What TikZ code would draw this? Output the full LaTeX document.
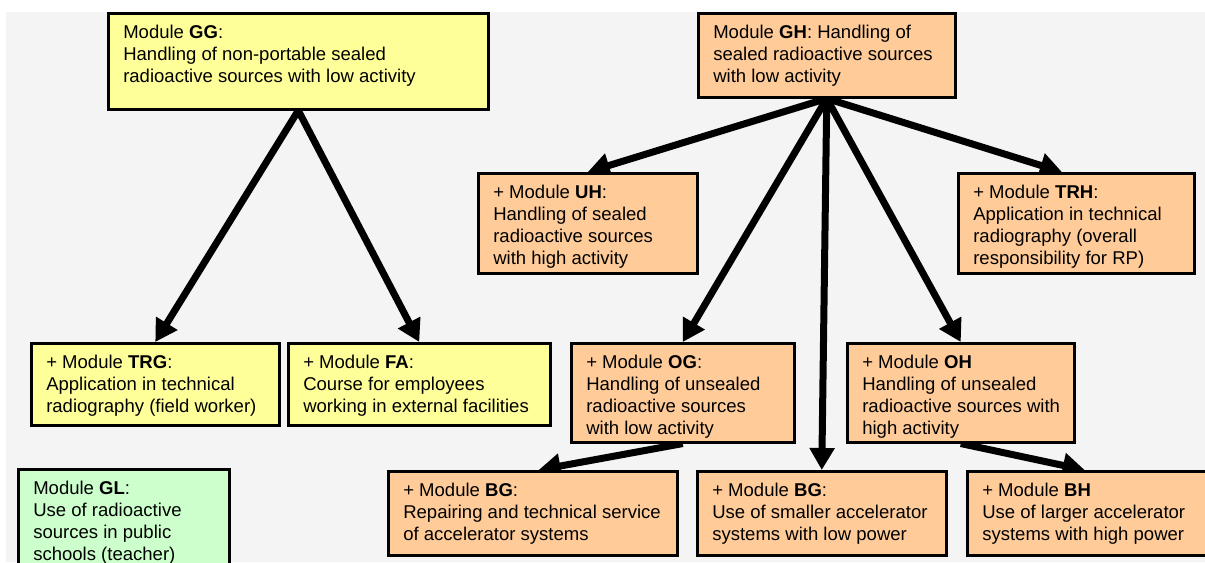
\documentclass[tikz,border=0pt]{standalone}
\usepackage{fontspec}
\setmainfont{Liberation Sans}
\usetikzlibrary{arrows.meta,calc}
\pgfdeclarelayer{bgl}
\pgfdeclarelayer{arl}
\pgfsetlayers{bgl,arl,main}
\newlength\mypx
\setlength\mypx{0.75pt}
\newcommand{\mbx}[3]{\begin{minipage}[t][#2\mypx][t]{#1\mypx}\leftskip=15\mypx\rule{0pt}{25\mypx}#3\end{minipage}}
\definecolor{ylw}{HTML}{FFFF99}
\definecolor{org}{HTML}{FFCC99}
\definecolor{grn}{HTML}{CCFFCC}
\definecolor{bgg}{HTML}{F4F4F4}
\begin{document}
\begin{tikzpicture}[x=0.75pt,y=-0.75pt,
  modbox/.style={draw=black, line width=1.9pt, inner sep=0pt, anchor=north west,
    font=\fontsize{13.9pt}{16.5pt}\selectfont},
  arr/.style={line width=5.25pt, -{Triangle[length=16.5pt,width=18pt]}}]
\useasboundingbox (0,0) rectangle (1205,562);
\begin{pgfonlayer}{bgl}
\fill[bgg] (6,12) rectangle (1205,562);
\end{pgfonlayer}

\node[modbox, fill=ylw] (gg) at (107,12) {\mbx{380}{96}{Module \textbf{GG}:\\Handling of non-portable sealed\\radioactive sources with low activity}};
\node[modbox, fill=org] (gh) at (697,12) {\mbx{257}{84}{Module \textbf{GH}: Handling of\\sealed radioactive sources\\with low activity}};
\node[modbox, fill=org] (uh) at (477,172) {\mbx{219}{100}{+ Module \textbf{UH}:\\Handling of sealed\\radioactive sources\\with high activity}};
\node[modbox, fill=org] (trh) at (957,172) {\mbx{236}{100}{+ Module \textbf{TRH}:\\Application in technical\\radiography (overall\\responsibility for RP)}};
\node[modbox, fill=ylw] (trg) at (30,342) {\mbx{248}{82}{+ Module \textbf{TRG}:\\Application in technical\\radiography (field worker)}};
\node[modbox, fill=ylw] (fa) at (287,342) {\mbx{262}{82}{+ Module \textbf{FA}:\\Course for employees\\working in external facilities}};
\node[modbox, fill=org] (og) at (570,342) {\mbx{223}{99}{+ Module \textbf{OG}:\\Handling of unsealed\\radioactive sources\\with low activity}};
\node[modbox, fill=org] (oh) at (846,342) {\mbx{227}{99}{+ Module \textbf{OH}\\Handling of unsealed\\radioactive sources with\\high activity}};
\node[modbox, fill=grn] (gl) at (17,468) {\mbx{211}{110}{Module \textbf{GL}:\\Use of radioactive\\sources in public\\schools (teacher)}};
\node[modbox, fill=org] (bga) at (387,470) {\mbx{289}{84}{+ Module \textbf{BG}:\\Repairing and technical service\\of accelerator systems}};
\node[modbox, fill=org] (bgb) at (696,470) {\mbx{249}{84}{+ Module \textbf{BG}:\\Use of smaller accelerator\\systems with low power}};
\node[modbox, fill=org] (bh) at (966,470) {\mbx{250}{84}{+ Module \textbf{BH}\\Use of larger accelerator\\systems with high power}};

\begin{pgfonlayer}{arl}
\draw[arr] (gg.south) -- (trg.north);
\draw[arr] (gg.south) -- (fa.north);
\draw[arr] (gh.south) -- (uh.north);
\draw[arr] (gh.south) -- ($(trh.north west)!0.44!(trh.north east)$);
\draw[arr] (gh.south) -- (og.north);
\draw[arr] (gh.south) -- (bgb.north);
\draw[arr] (gh.south) -- (oh.north);
\draw[arr] (og.south) -- ($(bga.north west)!0.52!(bga.north east)$);
\draw[arr] (oh.south) -- ($(bh.north west)!0.47!(bh.north east)$);
\end{pgfonlayer}
\end{tikzpicture}
\end{document}
